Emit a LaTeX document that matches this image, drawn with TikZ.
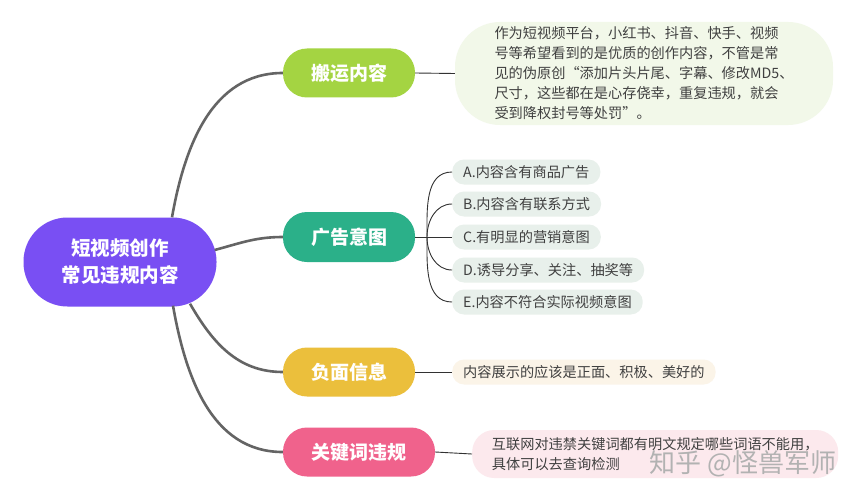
\documentclass[tikz,border=0pt]{standalone}
\usepackage{fontspec}
\setmainfont{Noto Sans CJK SC}
\usetikzlibrary{calc}

\definecolor{rootc}{RGB}{121,79,243}
\definecolor{banyun}{RGB}{164,212,66}
\definecolor{guanggao}{RGB}{43,176,137}
\definecolor{fumian}{RGB}{235,191,60}
\definecolor{guanjian}{RGB}{240,98,140}
\definecolor{banyunbg}{RGB}{242,248,233}
\definecolor{leafbg}{RGB}{232,240,235}
\definecolor{fumianbg}{RGB}{251,244,232}
\definecolor{guanjianbg}{RGB}{252,233,237}
\definecolor{txt}{RGB}{64,64,64}
\definecolor{linkc}{RGB}{100,100,100}
\definecolor{twigc}{RGB}{50,50,50}

\begin{document}
\begin{tikzpicture}[x=1pt,y=1pt]
    \tikzstyle{every node}=[font=\fontsize{14.2}{20}\selectfont]
    \tikzstyle{topic}=[rounded corners=24pt,minimum width=132pt,minimum height=49pt,text=white,font=\fontsize{19}{24}\selectfont\bfseries]
    \tikzstyle{leaf}=[rounded corners=12pt,minimum height=25pt,inner xsep=11pt,anchor=west,text=txt]
    \tikzstyle{link}=[draw=linkc,line width=2.6pt]
    \tikzstyle{twig}=[draw=twigc,line width=0.9pt]

    \fill[white] (0,0) rectangle (858,-500);
    \useasboundingbox (0,0) rectangle (858,-500);

    \node[fill=rootc,rounded corners=44pt,minimum width=193pt,minimum height=89pt,
    text=white,align=center,font=\fontsize{19.5}{27}\selectfont\bfseries]
    (root) at (120,-262) {短视频创作\\常见违规内容};

    \node[topic,fill=banyun] (banyun) at (349,-73) {搬运内容};
    \node[topic,fill=guanggao,minimum height=50pt] (guanggao) at (349,-237) {广告意图};
    \node[topic,fill=fumian] (fumian) at (349,-372) {负面信息};
    \node[topic,fill=guanjian,minimum width=152pt] (guanjian) at (359,-452) {关键词违规};

    \draw[link] ($(root.north)+(52,0)$) to[out=80,in=180] (banyun.west);
    \draw[link] ($(root.east)+(-2,12)$) to[out=15,in=180] (guanggao.west);
    \draw[link] ($(root.south)+(70,3)$) to[out=-60,in=180] (fumian.west);
    \draw[link] ($(root.south)+(53,1)$) to[out=-80,in=180] (guanjian.west);

    \node[fill=banyunbg,rounded corners=45pt,minimum width=378pt,minimum height=103pt,
    align=left,text=txt] (banyuntxt) at (644,-73.5)
    {作为短视频平台，小红书、抖音、快手、视频\\
    号等希望看到的是优质的创作内容，不管是常\\
    见的伪原创“添加片头片尾、字幕、修改MD5、\\
    尺寸，这些都在是心存侥幸，重复违规，就会\\
    受到降权封号等处罚”。};
    \draw[twig] (banyun.east) -- (banyuntxt.west);

    \node[leaf,fill=leafbg] (adA) at (452,-172) {A.内容含有商品广告};
    \node[leaf,fill=leafbg] (adB) at (452,-204) {B.内容含有联系方式};
    \node[leaf,fill=leafbg] (adC) at (452,-237) {C.有明显的营销意图};
    \node[leaf,fill=leafbg] (adD) at (452,-270) {D.诱导分享、关注、抽奖等};
    \node[leaf,fill=leafbg] (adE) at (452,-302) {E.内容不符合实际视频意图};

    \coordinate (fork) at (427,-237);
    \draw[twig] (guanggao.east) -- (adC.west);
    \draw[twig] (fork) to[out=90,in=180] (adA.west);
    \draw[twig] (fork) to[out=90,in=180] (adB.west);
    \draw[twig] (fork) to[out=-90,in=180] (adD.west);
    \draw[twig] (fork) to[out=-90,in=180] (adE.west);

    \node[leaf,fill=fumianbg] (fumiantxt) at (452,-372) {内容展示的应该是正面、积极、美好的};
    \draw[twig] (fumian.east) -- (fumiantxt.west);

    \node[fill=guanjianbg,rounded corners=22pt,minimum width=366pt,minimum height=48pt,
    anchor=west,align=left,text=txt,inner xsep=18pt] (guanjiantxt) at (472,-454)
    {互联网对违禁关键词都有明文规定哪些词语不能用，\\具体可以去查询检测};
    \draw[twig] (guanjian.east) -- (guanjiantxt.west);

    \node[text=gray!60,font=\fontsize{26}{30}\selectfont] (mark) at (743,-464) {知乎 @怪兽军师};
\end{tikzpicture}
\end{document}
